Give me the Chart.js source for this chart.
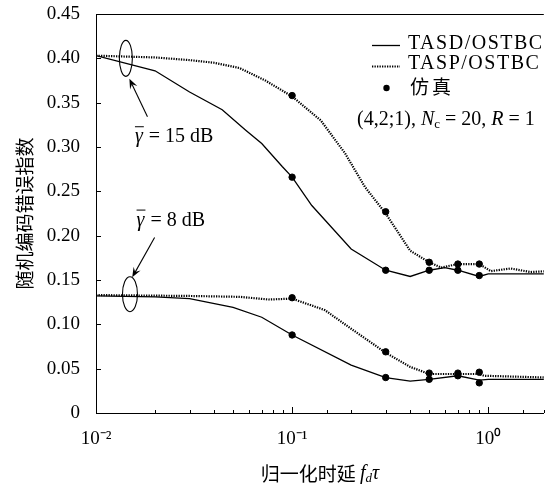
<!DOCTYPE html>
<html>
<head>
<meta charset="utf-8">
<script src="https://cdn.jsdelivr.net/npm/chart.js@4.4.0/dist/chart.umd.min.js"></script>
<style>
  html, body { margin: 0; padding: 0; background: #fff; }
  #wrap { width: 548px; height: 488px; }
</style>
</head>
<body>
<div id="wrap"><canvas id="chart"></canvas></div>
<script>
// x: 归一化时延 f_d*tau (log), y: 随机编码错误指数
var xMin = 0.01, xMax = 1.92;
var yTicks = [0, 0.05, 0.10, 0.15, 0.20, 0.25, 0.30, 0.35, 0.40, 0.45];

// gamma = 15 dB
var tasd15X = [0.01, 0.02, 0.03, 0.044, 0.058, 0.07, 0.089, 0.1, 0.126, 0.2, 0.3, 0.4, 0.5, 0.6, 0.7, 0.9, 1.0, 2];
var tasd15Y = [0.403, 0.386, 0.362, 0.342, 0.319, 0.304, 0.278, 0.266, 0.234, 0.185, 0.161, 0.154, 0.161, 0.164, 0.161, 0.154, 0.157, 0.157];
var tasp15X = [0.01, 0.02, 0.03, 0.04, 0.054, 0.073, 0.1, 0.14, 0.186, 0.235, 0.3, 0.4, 0.5, 0.575, 0.7, 0.9, 1.03, 1.3, 1.64, 2];
var tasp15Y = [0.403, 0.401, 0.398, 0.395, 0.389, 0.375, 0.357, 0.330, 0.293, 0.255, 0.225, 0.183, 0.170, 0.164, 0.168, 0.168, 0.160, 0.163, 0.159, 0.160];

// gamma = 8 dB
var tasd8X = [0.01, 0.02, 0.03, 0.05, 0.07, 0.1, 0.2, 0.3, 0.4, 0.5, 0.7, 0.9, 1.0, 2];
var tasd8Y = [0.132, 0.131, 0.129, 0.119, 0.108, 0.088, 0.054, 0.040, 0.036, 0.038, 0.042, 0.037, 0.038, 0.038];
var tasp8X = [0.01, 0.03, 0.054, 0.076, 0.1, 0.147, 0.2, 0.3, 0.4, 0.5, 0.7, 0.9, 0.95, 2];
var tasp8Y = [0.133, 0.132, 0.131, 0.128, 0.129, 0.116, 0.095, 0.068, 0.052, 0.044, 0.044, 0.044, 0.042, 0.040];

// 仿真 points
var simX = [0.1, 0.3, 0.5, 0.7, 0.9];
var simTasd15 = [0.266, 0.161, 0.161, 0.161, 0.155];
var simTasp15 = [0.358, 0.227, 0.170, 0.168, 0.168];
var simTasd8 = [0.088, 0.040, 0.038, 0.042, 0.034];
var simTasp8 = [0.130, 0.069, 0.045, 0.045, 0.046];

var serif = "'Liberation Serif', 'Times New Roman', serif";
var cjk = "'Noto Sans CJK SC', sans-serif";

function pairs(xs, ys) {
  return xs.map(function (x, i) { return { x: x, y: ys[i] }; });
}
function isDecade(v) {
  var l = Math.log10(v);
  return Math.abs(l - Math.round(l)) < 1e-9;
}

function solid(data) {
  return { type: 'line', data: data, borderColor: '#000', borderWidth: 1.3, pointRadius: 0, tension: 0, fill: false };
}
function dotted(data) {
  return { type: 'line', data: data, borderColor: '#000', borderWidth: 2.2, borderDash: [1.3, 1.2], pointRadius: 0, tension: 0, fill: false };
}
function dots(data) {
  return { type: 'scatter', data: data, backgroundColor: '#000', borderColor: '#000', pointRadius: 3.2, pointHoverRadius: 3.2 };
}

var paper = {
  id: 'paper',
  afterDraw: function (chart) {
    var ctx = chart.ctx, a = chart.chartArea, xs = chart.scales.x, ys = chart.scales.y;
    ctx.save();
    ctx.strokeStyle = '#000';
    ctx.fillStyle = '#000';
    ctx.lineWidth = 1;

    // top frame line
    ctx.beginPath();
    ctx.moveTo(a.left, a.top + 0.5);
    ctx.lineTo(a.right, a.top + 0.5);
    ctx.stroke();

    // inward ticks
    ctx.beginPath();
    xs.ticks.forEach(function (t) {
      var px = Math.round(xs.getPixelForValue(t.value)) + 0.5;
      var len = isDecade(t.value) ? 6 : 3;
      ctx.moveTo(px, a.bottom);
      ctx.lineTo(px, a.bottom - len);
    });
    yTicks.forEach(function (v) {
      var py = Math.round(ys.getPixelForValue(v)) + 0.5;
      ctx.moveTo(a.left, py);
      ctx.lineTo(a.left + 5, py);
    });
    ctx.stroke();

    // ellipses and arrows
    function ell(xv, yv, rx, ry) {
      ctx.beginPath();
      ctx.ellipse(xs.getPixelForValue(xv), ys.getPixelForValue(yv), rx, ry, 0, 0, Math.PI * 2);
      ctx.stroke();
    }
    function arrow(x0, y0, x1, y1) {
      var p0x = xs.getPixelForValue(x0), p0y = ys.getPixelForValue(y0);
      var p1x = xs.getPixelForValue(x1), p1y = ys.getPixelForValue(y1);
      var ang = Math.atan2(p1y - p0y, p1x - p0x), h = 10, w = 4;
      ctx.beginPath();
      ctx.moveTo(p0x, p0y);
      ctx.lineTo(p1x - Math.cos(ang) * h * 0.6, p1y - Math.sin(ang) * h * 0.6);
      ctx.stroke();
      ctx.beginPath();
      ctx.moveTo(p1x, p1y);
      ctx.lineTo(p1x - Math.cos(ang) * h - Math.sin(ang) * w, p1y - Math.sin(ang) * h + Math.cos(ang) * w);
      ctx.lineTo(p1x - Math.cos(ang) * h * 0.6, p1y - Math.sin(ang) * h * 0.6);
      ctx.lineTo(p1x - Math.cos(ang) * h + Math.sin(ang) * w, p1y - Math.sin(ang) * h - Math.cos(ang) * w);
      ctx.closePath();
      ctx.fill();
    }
    ctx.lineWidth = 1.1;
    ell(0.0142, 0.400, 6.5, 18);
    ell(0.0149, 0.134, 7.5, 17.5);
    arrow(0.0183, 0.334, 0.0148, 0.377);
    arrow(0.0199, 0.198, 0.0153, 0.153);

    // gamma labels
    function gammaLabel(xv, yv, rest) {
      var px = xs.getPixelForValue(xv), py = ys.getPixelForValue(yv);
      ctx.textBaseline = 'middle';
      ctx.textAlign = 'left';
      ctx.font = 'italic 20px ' + serif;
      var gw = ctx.measureText('\u03b3').width;
      ctx.fillText('\u03b3', px, py);
      ctx.lineWidth = 1;
      ctx.beginPath();
      ctx.moveTo(px, py - 10.5);
      ctx.lineTo(px + gw + 1, py - 10.5);
      ctx.stroke();
      ctx.font = '20px ' + serif;
      ctx.fillText(rest, px + gw + 1, py);
    }
    gammaLabel(0.0158, 0.311, ' = 15 dB');
    gammaLabel(0.0161, 0.217, ' = 8 dB');

    // legend block
    ctx.lineWidth = 1.3;
    ctx.setLineDash([]);
    ctx.beginPath();
    ctx.moveTo(372, 45.5); ctx.lineTo(400, 45.5);
    ctx.stroke();
    ctx.lineWidth = 2.2;
    ctx.setLineDash([1.3, 1.2]);
    ctx.beginPath();
    ctx.moveTo(372, 66.5); ctx.lineTo(400, 66.5);
    ctx.stroke();
    ctx.setLineDash([]);
    ctx.beginPath();
    ctx.arc(386.5, 88, 3.2, 0, Math.PI * 2);
    ctx.fill();

    ctx.textAlign = 'left';
    ctx.textBaseline = 'middle';
    ctx.font = '20px ' + serif;
    ctx.letterSpacing = '1.5px';
    ctx.fillText('TASD/OSTBC', 408, 44);
    ctx.fillText('TASP/OSTBC', 408, 64);
    ctx.font = '19px ' + cjk;
    ctx.letterSpacing = '3px';
    ctx.fillText('\u4eff\u771f', 410, 87);
    ctx.letterSpacing = '0px';

    // (4,2;1), N_c = 20, R = 1
    var segs = [
      ['(4,2;1), ', '20px ' + serif, 0],
      ['N', 'italic 20px ' + serif, 0],
      ['c', '13px ' + serif, 5],
      [' = 20, ', '20px ' + serif, 0],
      ['R', 'italic 20px ' + serif, 0],
      [' = 1', '20px ' + serif, 0]
    ];
    var cx = 357;
    segs.forEach(function (s) {
      ctx.font = s[1];
      ctx.fillText(s[0], cx, 120 + s[2]);
      cx += ctx.measureText(s[0]).width;
    });

    // x axis title: 归一化时延 f_d tau
    var tsegs = [
      ['\u5f52\u4e00\u5316\u65f6\u5ef6 ', '19px ' + cjk, 0],
      ['f', 'italic 20px ' + serif, 0],
      ['d', 'italic 13px ' + serif, 5],
      ['\u03c4', 'italic 20px ' + serif, 0]
    ];
    var tw = 0;
    tsegs.forEach(function (s) { ctx.font = s[1]; tw += ctx.measureText(s[0]).width; });
    var tx = (a.left + a.right) / 2 - tw / 2;
    tsegs.forEach(function (s) {
      ctx.font = s[1];
      ctx.fillText(s[0], tx, 474 + s[2]);
      tx += ctx.measureText(s[0]).width;
    });
    ctx.restore();
  }
};

var supers = { '-2': '10\u207b\u00b2', '-1': '10\u207b\u00b9', '0': '10\u2070' };

new Chart(document.getElementById('chart'), {
  type: 'line',
  data: {
    datasets: [
      solid(pairs(tasd15X, tasd15Y)),
      dotted(pairs(tasp15X, tasp15Y)),
      solid(pairs(tasd8X, tasd8Y)),
      dotted(pairs(tasp8X, tasp8Y)),
      dots(pairs(simX, simTasd15)),
      dots(pairs(simX, simTasp15)),
      dots(pairs(simX, simTasd8)),
      dots(pairs(simX, simTasp8))
    ]
  },
  options: {
    responsive: true,
    maintainAspectRatio: false,
    animation: false,
    events: [],
    layout: { padding: { top: 14, right: 1, left: 0, bottom: 0 } },
    plugins: { legend: { display: false }, tooltip: { enabled: false } },
    scales: {
      x: {
        type: 'logarithmic',
        min: xMin,
        max: xMax,
        afterFit: function (s) { s.height = 75; s.paddingLeft = 0; s.paddingRight = 0; },
        grid: { display: true, drawOnChartArea: false, drawTicks: false },
        border: { display: true, color: '#000', width: 1 },
        ticks: {
          autoSkip: false,
          maxRotation: 0,
          padding: 15,
          color: '#000',
          font: { family: serif, size: 19 },
          callback: function (v) {
            if (!isDecade(v)) return '';
            return supers[String(Math.round(Math.log10(v)))] || '';
          }
        }
      },
      y: {
        min: 0,
        max: 0.45,
        afterFit: function (s) { s.width = 96; s.paddingTop = 0; s.paddingBottom = 0; },
        afterBuildTicks: function (s) { s.ticks = yTicks.map(function (v) { return { value: v }; }); },
        grid: { display: true, drawOnChartArea: false, drawTicks: false },
        border: { display: true, color: '#000', width: 1 },
        title: {
          display: true,
          text: '\u968f\u673a\u7f16\u7801\u9519\u8bef\u6307\u6570',
          color: '#000',
          font: { family: cjk, size: 19 },
          padding: { top: 13, bottom: 0 }
        },
        ticks: {
          padding: 16,
          color: '#000',
          font: { family: serif, size: 19 },
          callback: function (v) { return v === 0 ? '0' : v.toFixed(2); }
        }
      }
    }
  },
  plugins: [paper]
});
</script>
</body>
</html>
